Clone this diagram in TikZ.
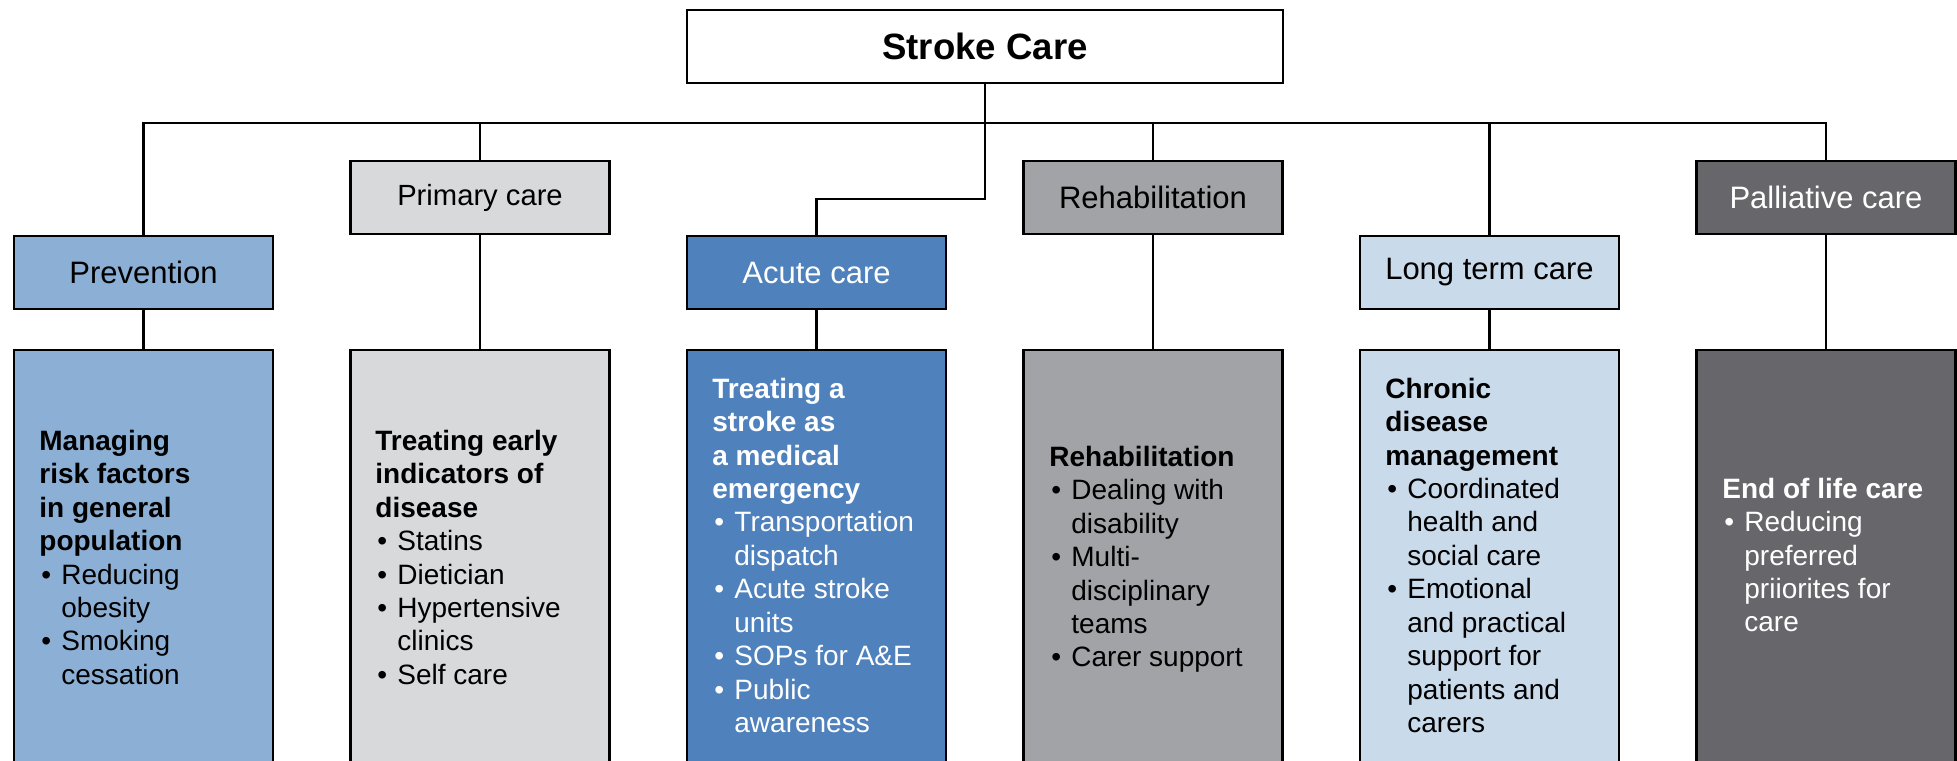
\documentclass[tikz,border=0pt]{standalone}
\usepackage{fontspec}
\setmainfont{Liberation Sans}
\definecolor{cPrev}{HTML}{8CAFD5}
\definecolor{cPrim}{HTML}{D8D9DB}
\definecolor{cAcute}{HTML}{4F81BD}
\definecolor{cRehab}{HTML}{A2A3A7}
\definecolor{cLong}{HTML}{C9DAEA}
\definecolor{cPall}{HTML}{67666B}
\newcommand{\bul}{\makebox[11pt][l]{\hspace{1pt}\textbullet}}
\newcommand{\ind}{\hspace*{11pt}}
\begin{document}
\begin{tikzpicture}[x=0.5pt,y=-0.5pt,
  box/.style={draw=black, line width=1.1pt, minimum width=129.5pt, inner sep=0pt},
  hdr/.style={box, minimum height=36.5pt, font=\fontsize{15.5}{18}\selectfont},
  detail/.style={box, minimum height=211pt},
  txt/.style={anchor=north west, inner sep=0pt, align=left, font=\fontsize{14}{16.7}\selectfont},
  conn/.style={line width=1.1pt, line join=miter}]
\useasboundingbox (0,0) rectangle (1957,760);
\clip (0,0) rectangle (1957,760);

% headers
\node[box, minimum width=298pt, minimum height=36.5pt, font=\bfseries\fontsize{18.3}{22}\selectfont] (stroke) at (985,46.5) {Stroke Care};
\node[hdr, fill=cPrev] (prev) at (143.5,272.5) {Prevention};
\node[hdr, fill=cPrim, font=\fontsize{14.6}{18}\selectfont] (prim) at (480,197.5) {Primary care};
\node[hdr, fill=cAcute, text=white] (acute) at (816.5,272.5) {Acute care};
\node[hdr, fill=cRehab] (rehab) at (1153,197.5) {Rehabilitation};
\node[hdr, fill=cLong] (long) at (1489.5,272.5) {Long term care};
\node[hdr, fill=cPall, text=white] (pall) at (1826,197.5) {Palliative care};

% detail boxes
\node[detail, fill=cPrev] (prevd) at (143.5,561) {};
\node[detail, fill=cPrim] (primd) at (480,561) {};
\node[detail, fill=cAcute] (acuted) at (816.5,561) {};
\node[detail, fill=cRehab] (rehabd) at (1153,561) {};
\node[detail, fill=cLong] (longd) at (1489.5,561) {};
\node[detail, fill=cPall] (palld) at (1826,561) {};

% connectors
\coordinate (busR) at (1826,123);
\coordinate (jn) at (985,199);
\draw[conn] (prev.north) |- (busR) -- (pall.north);
\draw[conn] (stroke.south) -- (jn) -| (acute.north);
\draw[conn] (prim.north |- busR) -- (prim.north);
\draw[conn] (rehab.north |- busR) -- (rehab.north);
\draw[conn] (long.north |- busR) -- (long.north);
\draw[conn] (prev.south) -- (prevd.north);
\draw[conn] (prim.south) -- (primd.north);
\draw[conn] (acute.south) -- (acuted.north);
\draw[conn] (rehab.south) -- (rehabd.north);
\draw[conn] (long.south) -- (longd.north);
\draw[conn] (pall.south) -- (palld.north);

% texts
\node[txt] (prevt) at (39,429.7) {\textbf{Managing}\\\textbf{risk factors}\\\textbf{in general}\\\textbf{population}\\\bul Reducing\\\ind obesity\\\bul Smoking\\\ind cessation};
\node[txt] (primt) at (375,429.7) {\textbf{Treating early}\\\textbf{indicators of}\\\textbf{disease}\\\bul Statins\\\bul Dietician\\\bul Hypertensive\\\ind clinics\\\bul Self care};
\node[txt, text=white] (acutet) at (712,377.7) {\textbf{Treating a}\\\textbf{stroke as}\\\textbf{a medical}\\\textbf{emergency}\\\bul Transportation\\\ind dispatch\\\bul Acute stroke\\\ind units\\\bul SOPs for A\&E\\\bul Public\\\ind awareness};
\node[txt] (rehabt) at (1049,445.7) {\textbf{Rehabilitation}\\\bul Dealing with\\\ind disability\\\bul Multi-\\\ind disciplinary\\\ind teams\\\bul Carer support};
\node[txt] (longt) at (1385,377.7) {\textbf{Chronic}\\\textbf{disease}\\\textbf{management}\\\bul Coordinated\\\ind health and\\\ind social care\\\bul Emotional\\\ind and practical\\\ind support for\\\ind patients and\\\ind carers};
\node[txt, text=white] (pallt) at (1722,477.7) {\textbf{End of life care}\\\bul Reducing\\\ind preferred\\\ind priiorites for\\\ind care};
\end{tikzpicture}
\end{document}
